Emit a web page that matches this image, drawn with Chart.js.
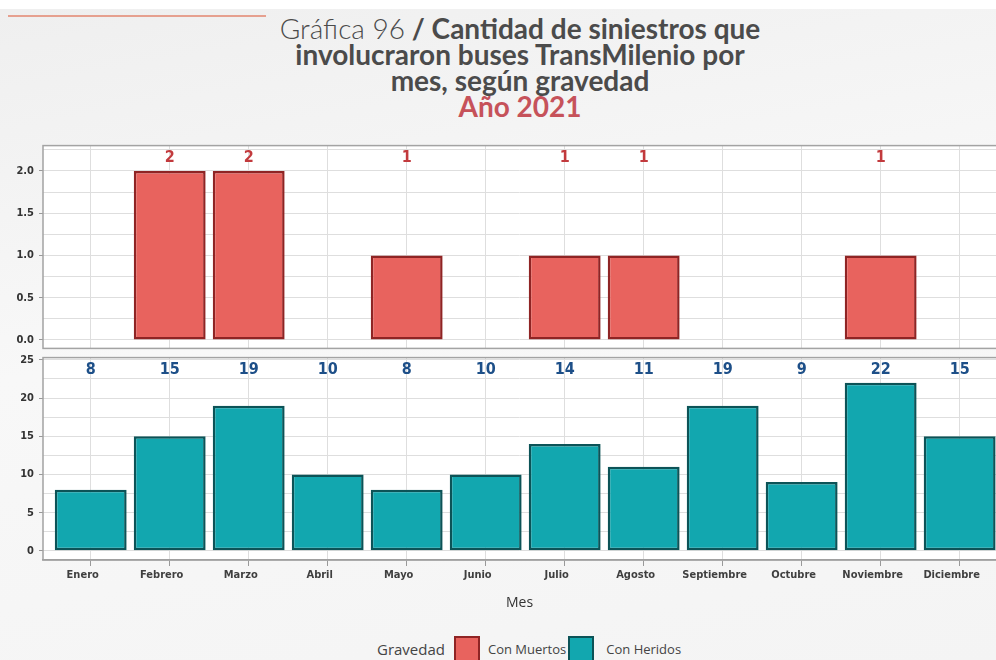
<!DOCTYPE html>
<html lang="es">
<head>
<meta charset="utf-8">
<title>Gráfica 96</title>
<script src="https://cdn.jsdelivr.net/npm/chart.js@4.4.1/dist/chart.umd.min.js"></script>
<style>
  html, body { margin: 0; padding: 0; }
  body { width: 996px; height: 660px; position: relative; overflow: hidden; background: #fff; font-family: Lato, 'Open Sans', sans-serif; }
  .bg { position: absolute; left: 0; top: 9px; width: 996px; height: 651px; background: linear-gradient(170deg, #efefef 0%, #f8f8f8 45%, #f4f4f4 100%); }
  .rule { position: absolute; left: 8px; top: 15px; width: 258px; height: 2px; background: #e6a08f; }
  .title { position: absolute; left: 120px; width: 800px; top: 15px; text-align: center; font-size: 28px; line-height: 26px; color: #4b4b4b; font-weight: 700; }
  .title .light { font-weight: 300; }
  .title .year { color: #c6525a; }
  .panel { position: absolute; left: 0; width: 996px; }
  #legend { position: absolute; left: 377px; top: 636px; display: flex; align-items: center; font-family: 'Open Sans', sans-serif; color: #444; }
  #legend .lbl { font-size: 15px; margin-right: 9px; }
  #legend .box { width: 22px; height: 22px; border: 2px solid; margin-right: 8px; }
  #legend .txt { font-size: 13px; margin-right: 2px; min-width: 78px; }
  #legend .box + .txt:last-child { margin-left: 4px; }
</style>
</head>
<body>
<div class="bg"></div>
<div class="rule"></div>
<div class="title">
  <span class="light">Gráfica 96</span> / Cantidad de siniestros que<br>
  involucraron buses TransMilenio por<br>
  mes, según gravedad<br>
  <span class="year">Año 2021</span>
</div>
<div class="panel" style="top:134px;height:226px"><canvas id="chartMuertos" width="996" height="226"></canvas></div>
<div class="panel" style="top:346px;height:274px"><canvas id="chartHeridos" width="996" height="274"></canvas></div>
<div id="legend"></div>

<script>
'use strict';
/* ============================================================
   Siniestros buses TransMilenio 2021 — por mes y gravedad
   ============================================================ */

const meses      = ['Enero', 'Febrero', 'Marzo', 'Abril', 'Mayo', 'Junio', 'Julio', 'Agosto', 'Septiembre', 'Octubre', 'Noviembre', 'Diciembre'];
const conMuertos = [0, 2, 2, 0, 1, 0, 1, 1, 0, 0, 1, 0];
const conHeridos = [8, 15, 19, 10, 8, 10, 14, 11, 19, 9, 22, 15];
const series     = ['Con Muertos', 'Con Heridos'];
const ticksMuertos = [0, 0.25, 0.5, 0.75, 1, 1.25, 1.5, 1.75, 2, 2.25];
const ticksHeridos = [0, 2.5, 5, 7.5, 10, 12.5, 15, 17.5, 20, 22.5, 25];

const fill     = ['#e8635e', '#12a7af'];
const stroke   = ['#8f2424', '#0c5357'];
const etiqueta = ['#c23a3d', '#1d4f88'];

const NARROW = "'DejaVu Sans Condensed', 'Liberation Sans Narrow', 'Roboto Condensed', sans-serif";
const GRID   = '#dedede';

// ── caja blanca + etiquetas de valor arriba del panel ─────────
const panelPlugin = {
  id: 'panel',
  beforeDraw(chart) {
    const { ctx, chartArea: a } = chart;
    ctx.save();
    ctx.fillStyle = '#fff';
    ctx.fillRect(a.left, a.top, a.right - a.left, a.bottom - a.top);
    ctx.restore();
  },
  afterDraw(chart, args, opts) {
    const { ctx, chartArea: a } = chart;
    ctx.save();
    ctx.strokeStyle = '#a3a3a3';
    ctx.lineWidth = 1.5;
    ctx.strokeRect(a.left, a.top, a.right - a.left + 2, a.bottom - a.top);
    ctx.fillStyle = opts.color;
    ctx.font = `bold 16px ${NARROW}`;
    ctx.textAlign = 'center';
    ctx.textBaseline = 'middle';
    const xs = chart.scales.x;
    chart.data.datasets[0].data.forEach(p => {
      if (opts.hideZero && !p.y) return;
      ctx.fillText(String(p.y), xs.getPixelForValue(p.x), a.top + opts.offset);
    });
    ctx.restore();
  }
};

function panelOptions(yMin, yMax, yTicks, fmt, showX, labelColor, hideZero) {
  return {
    responsive: false,
    animation: false,
    layout: { padding: 0 },
    plugins: {
      legend: { display: false },
      tooltip: { enabled: false },
      panel: { color: labelColor, offset: 12, hideZero }
    },
    scales: {
      x: {
        type: 'linear', bounds: 'data', min: -0.604, max: 11.46, offset: false,
        grid: { offset: false, color: GRID, drawTicks: showX, tickLength: 6, tickColor: '#999' },
        border: { display: showX, color: '#999', width: 1.5 },
        afterBuildTicks: s => { s.ticks = meses.map((m, i) => ({ value: i })); },
        ticks: {
          display: showX, autoSkip: false, maxRotation: 0, padding: 3, labelOffset: -8,
          color: '#3f3f3f', font: { family: NARROW, size: 11, weight: 'bold' },
          callback: v => meses[v]
        },
        title: { display: showX, text: 'Mes', color: '#333', font: { family: "'Open Sans', sans-serif", size: 14 }, padding: { top: 0, bottom: 9 } },
        afterFit: s => { s.height = showX ? 60 : 0; }
      },
      y: {
        bounds: 'data', min: yMin, max: yMax,
        afterBuildTicks: s => { s.ticks = yTicks.map(v => ({ value: v })); },
        ticks: {
          autoSkip: false, padding: 5, color: '#333',
          font: { family: NARROW, size: 11, weight: 'bold' },
          callback: fmt
        },
        grid: { color: GRID, tickLength: 4, tickColor: c => (fmt(c.tick.value) ? '#999' : 'rgba(0,0,0,0)') },
        border: { display: false },
        afterFit: s => { s.width = 43; }
      }
    }
  };
}

function dataset(i, values) {
  return {
    label: series[i],
    data: values.map((v, k) => ({ x: k, y: v })),
    backgroundColor: fill[i],
    borderColor: stroke[i],
    borderWidth: 2.5,
    borderSkipped: false,
    barPercentage: 0.91,
    categoryPercentage: 1
  };
}

new Chart(document.getElementById('chartMuertos'), {
  type: 'bar',
  data: { datasets: [dataset(0, conMuertos)] },
  options: panelOptions(-0.1, 2.3, ticksMuertos, v => (v % 0.5 === 0 ? v.toFixed(1) : ''), false, etiqueta[0], true),
  plugins: [panelPlugin]
});

new Chart(document.getElementById('chartHeridos'), {
  type: 'bar',
  data: { datasets: [dataset(1, conHeridos)] },
  options: panelOptions(-1.2, 25.3, ticksHeridos, v => (v % 5 === 0 ? String(v) : ''), true, etiqueta[1], false),
  plugins: [panelPlugin]
});

// ── leyenda ────────────────────────────────────────────────────
document.getElementById('legend').innerHTML =
  '<span class="lbl">Gravedad</span>' +
  series.map((s, i) => `<span class="box" style="background:${fill[i]};border-color:${stroke[i]}"></span><span class="txt">${s}</span>`).join('');
</script>
</body>
</html>
